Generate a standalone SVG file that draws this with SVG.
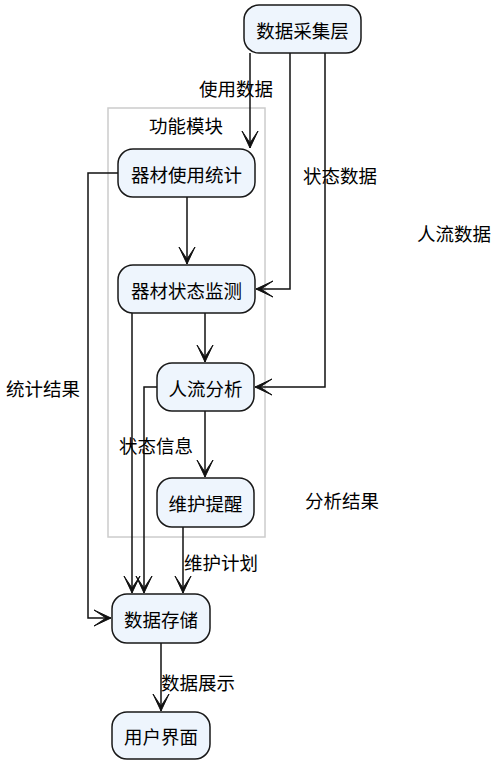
<svg xmlns="http://www.w3.org/2000/svg" width="497" height="764" viewBox="0 0 497 764">
<style>
  .node rect { fill: #EEF5FD; stroke: #181818; stroke-width: 1.5; }
  text { font-family: "Noto Sans CJK SC", "Noto Sans", sans-serif; font-size: 18.5px; fill: #000; text-anchor: middle; dominant-baseline: central; }
  .edge { fill: none; stroke: #111111; stroke-width: 1.5; }
  .group { fill: none; stroke: #cccccc; stroke-width: 1.5; }
</style>
<defs>
  <marker id="arr" viewBox="-18 -9 20 18" refX="0" refY="0" markerWidth="20" markerHeight="18" markerUnits="userSpaceOnUse" orient="auto">
    <path d="M0,0 L-17,-8 L-5,0 L-17,8 Z" fill="#111111" stroke="#111111" stroke-width="1"/>
  </marker>
</defs>
<rect x="0" y="0" width="497" height="764" fill="#ffffff"/>
<g id="group-functions">
  <rect class="group" x="108" y="108" width="157" height="429"/>
  <text x="186" y="125">功能模块</text>
</g>
<g id="connectors">
  <path class="edge" d="M250,53 L250,148" marker-end="url(#arr)"/>
  <path class="edge" d="M290,53 L290,289 L256,289" marker-end="url(#arr)"/>
  <path class="edge" d="M325,53 L325,387 L255,387" marker-end="url(#arr)"/>
  <path class="edge" d="M187,197 L187,264" marker-end="url(#arr)"/>
  <path class="edge" d="M118,173 L88,173 L88,618 L111,618" marker-end="url(#arr)"/>
  <path class="edge" d="M205,313 L205,362" marker-end="url(#arr)"/>
  <path class="edge" d="M132,313 L132,593" marker-end="url(#arr)"/>
  <path class="edge" d="M157,387 L144,387 L144,593" marker-end="url(#arr)"/>
  <path class="edge" d="M205,411 L205,477" marker-end="url(#arr)"/>
  <path class="edge" d="M183,527 L183,593" marker-end="url(#arr)"/>
  <path class="edge" d="M161,643 L161,711" marker-end="url(#arr)"/>
  <text x="236" y="88">使用数据</text>
  <text x="340" y="175">状态数据</text>
  <text x="454" y="233">人流数据</text>
  <text x="43" y="388">统计结果</text>
  <text x="156" y="445">状态信息</text>
  <text x="342" y="500">分析结果</text>
  <text x="221" y="562">维护计划</text>
  <text x="198" y="682">数据展示</text>
</g>
<g id="node-collect" class="node">
  <rect x="244" y="5" width="117" height="48" rx="15"/>
  <text x="302.5" y="30">数据采集层</text>
</g>
<g id="node-usage" class="node">
  <rect x="118" y="149" width="137" height="48" rx="15"/>
  <text x="186.5" y="174">器材使用统计</text>
</g>
<g id="node-status" class="node">
  <rect x="118" y="265" width="137" height="48" rx="15"/>
  <text x="186.5" y="290">器材状态监测</text>
</g>
<g id="node-flow" class="node">
  <rect x="157" y="363" width="97" height="48" rx="15"/>
  <text x="205.5" y="388">人流分析</text>
</g>
<g id="node-maint" class="node">
  <rect x="157" y="478" width="97" height="49" rx="15"/>
  <text x="205.5" y="503">维护提醒</text>
</g>
<g id="node-store" class="node">
  <rect x="112" y="594" width="98" height="49" rx="15"/>
  <text x="161" y="619">数据存储</text>
</g>
<g id="node-ui" class="node">
  <rect x="112" y="712" width="98" height="47" rx="15"/>
  <text x="161" y="736">用户界面</text>
</g>
</svg>
